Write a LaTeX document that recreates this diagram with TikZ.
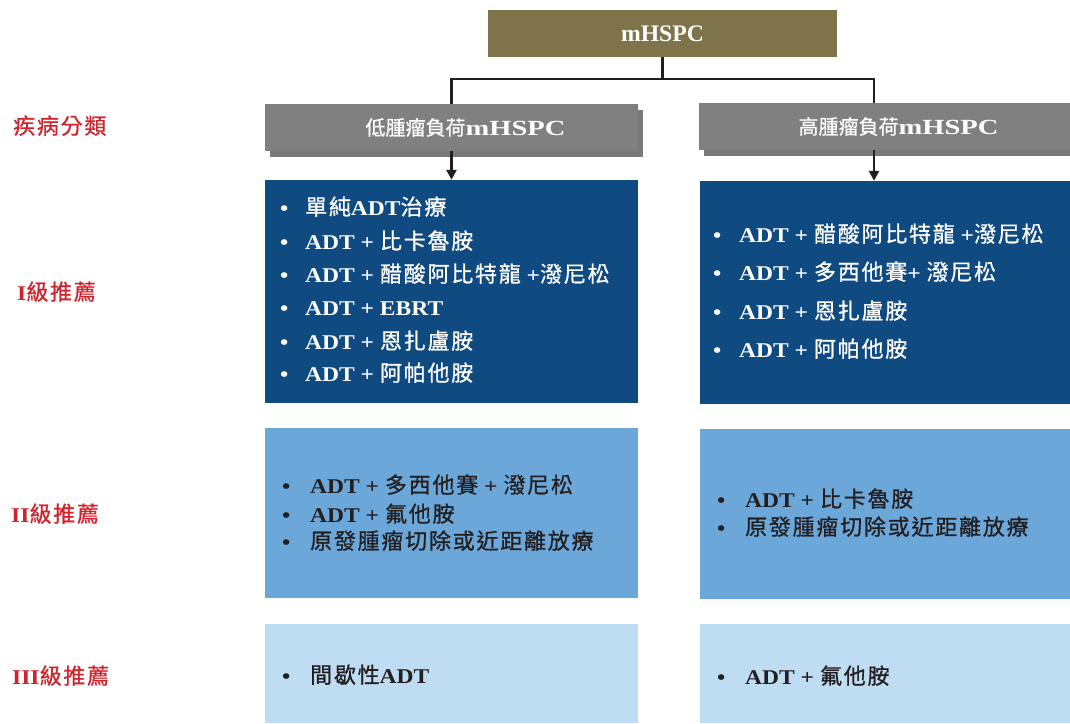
\documentclass[tikz,border=0pt]{standalone}
\usepackage{fontspec}
\setmainfont{Liberation Serif}
\newfontfamily\latn[FakeStretch=1.12]{Liberation Serif}
\newfontfamily\latw[FakeStretch=1.32]{Liberation Serif}
\newfontfamily\cjk[LetterSpace=8,FakeBold=0.8]{Noto Sans CJK TC}
\newfontfamily\cjkn[FakeBold=0.8]{Noto Sans CJK TC}
\usetikzlibrary{arrows.meta,shadows}
\definecolor{olive}{HTML}{7F7449}
\definecolor{greybox}{HTML}{808080}
\definecolor{darkblue}{HTML}{0F4A81}
\definecolor{midblue}{HTML}{6CA7DA}
\definecolor{lightblue}{HTML}{BEDCF2}
\definecolor{labred}{HTML}{CF242D}
\definecolor{ink}{HTML}{231F20}
\newcommand\La[1]{{\latn\bfseries #1}}
\newcommand\Ck[1]{{\fontsize{22}{26}\selectfont\cjk #1}}
\newcommand\itm[2]{\makebox[#1][l]{\La{\textbullet}}#2}
\tikzset{
  box/.style={draw=none, inner sep=0pt, anchor=center},
  greyhead/.style={box, fill=greybox, text=white,
    drop shadow={shadow xshift=5pt, shadow yshift=-6pt, fill=black!70, opacity=0.75}},
  txt/.style={anchor=base west, inner sep=0pt, font=\fontsize{21}{25}\selectfont},
  wtxt/.style={txt, text=white},
  ktxt/.style={txt, text=ink},
  lab/.style={txt, text=labred},
  conn/.style={draw=ink, line width=2.5pt},
  arr/.style={conn, -{Triangle[length=10pt,width=10pt]}},
}
\begin{document}
\begin{tikzpicture}[x=1pt,y=-1pt]
\useasboundingbox (0,0) rectangle (1070,723);
% header
\node[box, fill=olive, text=white, minimum width=349pt, minimum height=47pt,
  font=\fontsize{23.7}{26}\selectfont\bfseries] (top) at (662.5,33.5) {mHSPC};
\node[greyhead, minimum width=373pt, minimum height=47pt] (low) at (451.5,127.5)
  {\hspace*{28pt}{\fontsize{20}{24}\selectfont\cjkn 低腫瘤負荷}{\fontsize{21.6}{24}\selectfont\latw\bfseries mHSPC}};
\node[greyhead, minimum width=371pt, minimum height=47pt] (high) at (884.5,126.5)
  {\hspace*{28pt}{\fontsize{20}{24}\selectfont\cjkn 高腫瘤負荷}{\fontsize{21.6}{24}\selectfont\latw\bfseries mHSPC}};
% level boxes
\node[box, fill=darkblue, minimum width=373pt, minimum height=223pt] (lowI) at (451.5,291.5) {};
\node[box, fill=darkblue, minimum width=370pt, minimum height=223pt] (highI) at (885,292.5) {};
\node[box, fill=midblue, minimum width=373pt, minimum height=170pt] (lowII) at (451.5,513) {};
\node[box, fill=midblue, minimum width=370pt, minimum height=170pt] (highII) at (885,514) {};
\node[box, fill=lightblue, minimum width=373pt, minimum height=99pt] (lowIII) at (451.5,673.5) {};
\node[box, fill=lightblue, minimum width=370pt, minimum height=99pt] (highIII) at (885,673.5) {};
% connectors
\coordinate (hr) at (874,79);
\draw[conn] (top.south) -- (top.south |- hr);
\draw[conn] (low.north) |- (hr) -- (hr |- high.north);
\draw[arr] (low.south) -- (lowI.north);
\draw[arr] (hr |- high.south) -- (hr |- highI.north);
% row labels
\node[lab] (l0) at (13,134) {\Ck{疾病分類}};
\node[lab] (l1) at (17,300) {\La{I}\Ck{級推薦}};
\node[lab] (l2) at (11,522) {\La{II}\Ck{級推薦}};
\node[lab] (l3) at (12,684) {\La{III}\Ck{級推薦}};
% low burden, level I
\node[wtxt] (a1) at (280,215) {\itm{25pt}{\Ck{單純}\La{ADT}\Ck{治療}}};
\node[wtxt] (a2) at (280,249) {\itm{25pt}{\La{ADT + }\Ck{比卡魯胺}}};
\node[wtxt] (a3) at (280,282) {\itm{25pt}{\La{ADT + }\Ck{醋酸阿比特龍}\La{ +}\Ck{潑尼松}}};
\node[wtxt] (a4) at (280,315) {\itm{25pt}{\La{ADT + EBRT}}};
\node[wtxt] (a5) at (280,349) {\itm{25pt}{\La{ADT + }\Ck{恩扎盧胺}}};
\node[wtxt] (a6) at (280,381) {\itm{25pt}{\La{ADT + }\Ck{阿帕他胺}}};
% high burden, level I
\node[wtxt] (b1) at (713,242) {\itm{26pt}{\La{ADT + }\Ck{醋酸阿比特龍}\La{ +}\Ck{潑尼松}}};
\node[wtxt] (b2) at (713,280) {\itm{26pt}{\La{ADT + }\Ck{多西他賽}\La{+ }\Ck{潑尼松}}};
\node[wtxt] (b3) at (713,319) {\itm{26pt}{\La{ADT + }\Ck{恩扎盧胺}}};
\node[wtxt] (b4) at (713,357) {\itm{26pt}{\La{ADT + }\Ck{阿帕他胺}}};
% level II
\node[ktxt] (c1) at (282,493) {\itm{28pt}{\La{ADT + }\Ck{多西他賽}\La{ + }\Ck{潑尼松}}};
\node[ktxt] (c2) at (282,522) {\itm{28pt}{\La{ADT + }\Ck{氟他胺}}};
\node[ktxt] (c3) at (282,549) {\itm{28pt}{\Ck{原發腫瘤切除或近距離放療}}};
\node[ktxt] (d1) at (717,507) {\itm{28pt}{\La{ADT + }\Ck{比卡魯胺}}};
\node[ktxt] (d2) at (717,535) {\itm{28pt}{\Ck{原發腫瘤切除或近距離放療}}};
% level III
\node[ktxt] (e1) at (282,683) {\itm{28pt}{\Ck{間歇性}\La{ADT}}};
\node[ktxt] (f1) at (717,684) {\itm{28pt}{\La{ADT + }\Ck{氟他胺}}};
\end{tikzpicture}
\end{document}
